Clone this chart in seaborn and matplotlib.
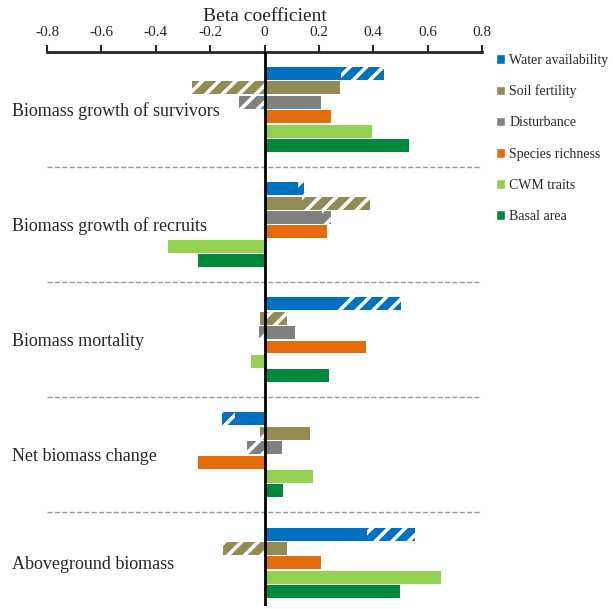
import numpy as np
import pandas as pd
import seaborn as sns
import matplotlib
matplotlib.use('Agg')
import matplotlib.pyplot as plt
import matplotlib.transforms as mtransforms
from matplotlib.patches import Patch

groups = ['Biomass growth of survivors', 'Biomass growth of recruits',
          'Biomass mortality', 'Net biomass change', 'Aboveground biomass']
predictors = ['Water availability', 'Soil fertility', 'Disturbance',
              'Species richness', 'CWM traits', 'Basal area']
colors = ['#0070C0', '#948A54', '#808080', '#E46C0A', '#92D050', '#00883C']

# direct (solid) and indirect (hatched) effects, one value per group
direct_water = [0.28, 0.123, 0.27, -0.11, 0.378]
indirect_water = [0.16, 0.024, 0.233, -0.046, 0.177]
direct_soil = [0.276, 0.139, -0.018, 0.168, 0.083]
indirect_soil = [-0.265, 0.248, 0.082, -0.018, -0.153]
direct_dist = [0.209, 0.211, 0.113, 0.065, np.nan]
indirect_dist = [-0.092, 0.032, -0.022, -0.065, np.nan]
direct_rich = [0.245, 0.231, 0.372, -0.243, 0.206]
direct_cwm = [0.397, -0.356, -0.049, 0.178, 0.651]
direct_basal = [0.53, -0.243, 0.237, 0.068, 0.50]

direct_all = [direct_water, direct_soil, direct_dist, direct_rich, direct_cwm, direct_basal]
indirect_all = [indirect_water, indirect_soil, indirect_dist,
                [0] * 5, [0] * 5, [0] * 5]

# build slot order (one slot per bar, two empty slots between groups)
rows = []
order = []
for g, grp in enumerate(groups):
    if g > 0:
        order += ['sp%da' % g, 'sp%db' % g]
    for p, pred in enumerate(predictors):
        d = direct_all[p][g]
        if np.isnan(d):
            continue
        slot = '%d_%d' % (g, p)
        order.append(slot)
        rows.append({'slot': slot, 'group': grp, 'predictor': pred,
                     'direct': d, 'indirect': indirect_all[p][g]})
df = pd.DataFrame(rows)
df['pos'] = [order.index(s) for s in df['slot']]

sns.set_style('white')
plt.rcParams['font.family'] = ['Liberation Serif', 'DejaVu Serif']
plt.rcParams['hatch.linewidth'] = 2.6

fig = plt.figure(figsize=(6.13, 6.09), dpi=100)
ax = fig.add_axes([47 / 613, 3 / 609, 435 / 613, 554 / 609])

sns.barplot(data=df, x='direct', y='slot', hue='predictor', order=order,
            hue_order=predictors, palette=colors, dodge=False, orient='h',
            width=0.9, legend=False, ax=ax, linewidth=0, saturation=1)

# hatched indirect parts
for _, r in df.iterrows():
    if r['indirect'] == 0:
        continue
    left = r['direct'] if np.sign(r['direct']) == np.sign(r['indirect']) else 0
    c = colors[predictors.index(r['predictor'])]
    ax.barh(r['pos'], r['indirect'], left=left, height=0.9, color=c,
            hatch='//', edgecolor='white', linewidth=0)

ax.set_xlim(-0.8, 0.8)
ax.set_ylim(len(order), -1.5)
ax.axvline(0, color='black', lw=2, zorder=5)
for g in range(1, len(groups)):
    ax.axhline(order.index('sp%da' % g) + 0.5, color='#999999', ls='--', lw=1)

ax.xaxis.tick_top()
ax.xaxis.set_label_position('top')
ticks = [-0.8, -0.6, -0.4, -0.2, 0, 0.2, 0.4, 0.6, 0.8]
ax.set_xticks(ticks)
ax.set_xticklabels(['-0.8', '-0.6', '-0.4', '-0.2', '0', '0.2', '0.4', '0.6', '0.8'], fontsize=11)
ax.tick_params(axis='x', direction='out', length=5, width=1.5, pad=4, top=True, bottom=False)
ax.set_xlabel('Beta coefficient', fontsize=14, labelpad=4)
ax.set_yticks([])
ax.set_ylabel('')
for s in ['left', 'right', 'bottom']:
    ax.spines[s].set_visible(False)
ax.spines['top'].set_linewidth(2)

trans = mtransforms.blended_transform_factory(fig.transFigure, ax.transData)
for g, grp in enumerate(groups):
    pos = df.loc[df['group'] == grp, 'pos']
    ax.text(12 / 613, (pos.min() + pos.max()) / 2 + 0.1, grp, transform=trans,
            fontsize=13, va='center', ha='left')

handles = [Patch(facecolor=c, label=p) for p, c in zip(predictors, colors)]
fig.legend(handles=handles, loc='upper left', bbox_to_anchor=(490 / 613, 1 - 48 / 609),
           frameon=False, fontsize=10, handlelength=0.7, handleheight=0.7,
           handletextpad=0.3, labelspacing=1.3, borderaxespad=0)

fig.savefig('out.png', dpi=100)
